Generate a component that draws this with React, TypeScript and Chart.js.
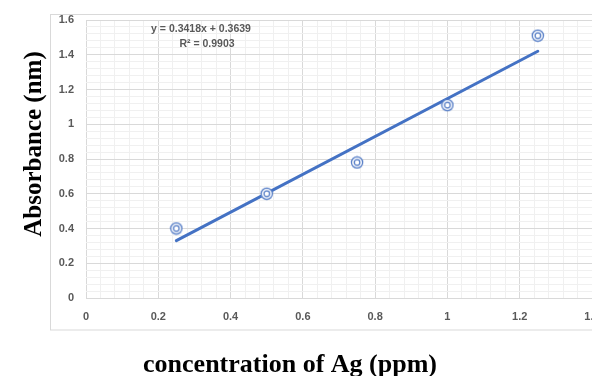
import React, { useEffect, useRef } from "react";
import { Chart, registerables } from "chart.js";

Chart.register(...registerables);

// Data
const concentration = [0.25, 0.5, 0.75, 1.0, 1.25];
const absorbance = [0.4, 0.6, 0.78, 1.11, 1.51];
const trendX = [0.25, 1.25];
const trendY = [0.33, 1.42];
const xTickValues = [0, 0.2, 0.4, 0.6, 0.8, 1, 1.2, 1.4];
const yTickValues = [0, 0.2, 0.4, 0.6, 0.8, 1, 1.2, 1.4, 1.6];
const equationText = "y = 0.3418x + 0.3639";
const r2Text = "R² = 0.9903";
const xTitle = "concentration of Ag (ppm)";
const yTitle = "Absorbance (nm)";

const isMajor = (v: number, list: number[]) =>
  list.some((t) => Math.abs(t - v) < 1e-6);

export default function App() {
  const ref = useRef<HTMLCanvasElement | null>(null);

  useEffect(() => {
    if (!ref.current) return;

    const pc = document.createElement("canvas");
    pc.width = 14;
    pc.height = 14;
    const g = pc.getContext("2d")!;
    g.fillStyle = "#ffffff";
    g.beginPath();
    g.arc(7, 7, 6, 0, Math.PI * 2);
    g.fill();
    g.strokeStyle = "#4a74c2";
    g.lineWidth = 1.2;
    g.beginPath();
    g.arc(7, 7, 5.6, 0, Math.PI * 2);
    g.stroke();
    g.beginPath();
    g.arc(7, 7, 2.8, 0, Math.PI * 2);
    g.stroke();

    const decor = {
      id: "decor",
      beforeDraw(chart: any) {
        const ctx = chart.ctx;
        ctx.save();
        ctx.fillStyle = "#ffffff";
        ctx.fillRect(0, 0, chart.width, chart.height);
        ctx.strokeStyle = "#d9d9d9";
        ctx.lineWidth = 1;
        ctx.strokeRect(50.5, 14.5, 700, 315.5);
        ctx.restore();
      },
      afterDraw(chart: any) {
        const ctx = chart.ctx;
        ctx.save();
        ctx.fillStyle = "#000000";
        ctx.textAlign = "center";
        ctx.textBaseline = "alphabetic";
        ctx.font = 'bold 26px "Liberation Serif"';
        ctx.fillText(xTitle, 290, 372);
        ctx.font = 'bold 25px "Liberation Serif"';
        ctx.translate(41, 144);
        ctx.rotate(-Math.PI / 2);
        ctx.fillText(yTitle, 0, 0);
        ctx.restore();

        ctx.save();
        ctx.fillStyle = "#595959";
        ctx.textAlign = "center";
        ctx.textBaseline = "middle";
        ctx.font = 'bold 10.5px "Liberation Sans"';
        ctx.fillText(equationText, 201, 29);
        ctx.fillText(r2Text, 207, 44);
        ctx.restore();
      },
    };

    const chart = new Chart(ref.current, {
      type: "scatter",
      data: {
        datasets: [
          {
            label: "points",
            data: concentration.map((x, i) => ({ x, y: absorbance[i] })),
            pointStyle: pc as any,
            pointRadius: 7,
            showLine: false,
          },
          {
            label: "trend",
            data: trendX.map((x, i) => ({ x, y: trendY[i] })),
            showLine: true,
            borderColor: "#4472c4",
            borderWidth: 3,
            pointRadius: 0,
            borderCapStyle: "round",
          },
        ],
      },
      options: {
        responsive: false,
        animation: false,
        layout: { padding: { left: 0, top: 20, right: 28, bottom: 0 } },
        plugins: {
          legend: { display: false },
          tooltip: { enabled: false },
        },
        scales: {
          x: {
            type: "linear",
            min: 0,
            max: 1.4,
            afterFit: (s: any) => {
              s.height = 78;
            },
            border: { display: false },
            grid: {
              drawTicks: false,
              color: (c: any) =>
                isMajor(c.tick.value, xTickValues) ? "#d9d9d9" : "#f0f0f0",
              lineWidth: 1,
            },
            ticks: {
              stepSize: 0.04,
              autoSkip: false,
              maxRotation: 0,
              padding: 12,
              color: "#595959",
              font: { family: "Liberation Sans", size: 11, weight: "bold" },
              callback: (v: any) =>
                isMajor(Number(v), xTickValues)
                  ? String(Math.round(Number(v) * 10) / 10)
                  : "",
            },
          },
          y: {
            type: "linear",
            min: 0,
            max: 1.6,
            afterFit: (s: any) => {
              s.width = 86;
            },
            border: { display: false },
            grid: {
              drawTicks: false,
              color: (c: any) =>
                isMajor(c.tick.value, yTickValues) ? "#d9d9d9" : "#f0f0f0",
              lineWidth: 1,
            },
            ticks: {
              stepSize: 0.04,
              autoSkip: false,
              padding: 12,
              color: "#595959",
              font: { family: "Liberation Sans", size: 11, weight: "bold" },
              callback: (v: any) =>
                isMajor(Number(v), yTickValues)
                  ? String(Math.round(Number(v) * 10) / 10)
                  : "",
            },
          },
        },
      },
      plugins: [decor],
    });

    return () => chart.destroy();
  }, []);

  return (
    <div
      style={{
        position: "fixed",
        left: 0,
        top: 0,
        width: 592,
        height: 376,
        overflow: "hidden",
        background: "#fff",
      }}
    >
      <canvas ref={ref} width={620} height={376} style={{ display: "block" }} />
    </div>
  );
}
